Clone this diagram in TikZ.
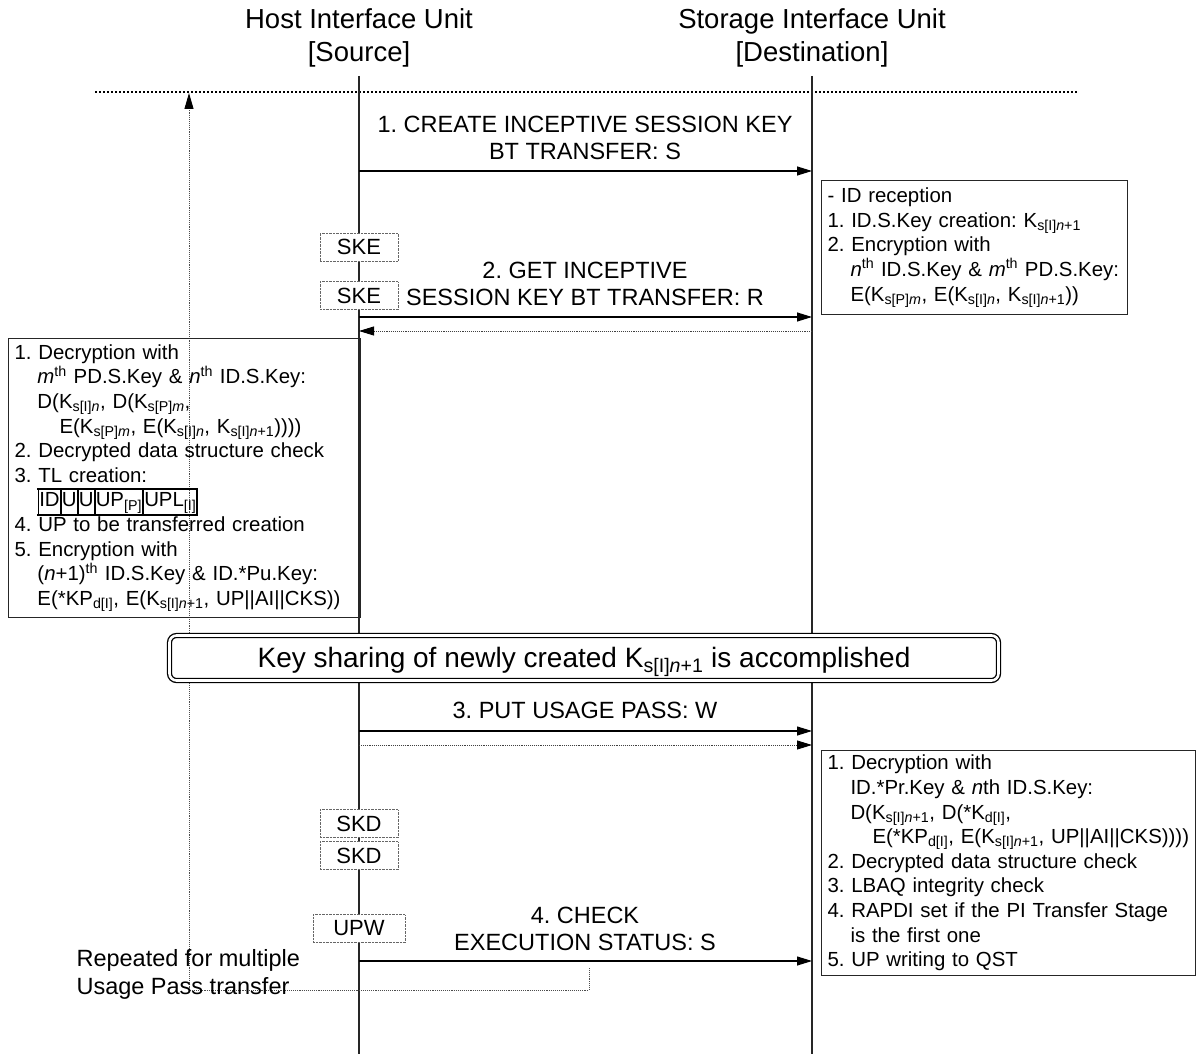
\documentclass[tikz,border=0pt]{standalone}
\usepackage{fontspec}
\setmainfont{Liberation Sans}
\usetikzlibrary{arrows.meta}
\frenchspacing
\newcommand\lo[1]{\textsubscript{#1}}
\newcommand\hi[1]{\textsuperscript{#1}}
\newcommand\ii{\textit}
\newcommand\tlb[1]{\fbox{\strut #1}\kern-1.4pt}
\tikzset{
  life/.style={draw=black!85, line width=1.2pt},
  msg/.style={draw=black, line width=1.1pt, -{Triangle[length=15pt,width=9pt]}},
  rmsg/.style={draw=black!75, line width=0.9pt, densely dotted, -{Triangle[length=15pt,width=9pt,fill=black,color=black]}},
  ttl/.style={font=\fontsize{27.5}{33}\selectfont, align=center},
  lbl/.style={font=\fontsize{23.5}{27}\selectfont, align=center},
  proc/.style={draw=black!60, densely dotted, fill=white, minimum width=78pt, minimum height=28pt, inner sep=0pt, font=\fontsize{22}{26}\selectfont},
  note/.style={draw=black!85, line width=1pt, anchor=north west, align=left, inner xsep=6pt, inner ysep=4pt, font=\fontsize{20.4}{24.6}\selectfont\frenchspacing},
}
\begin{document}
\begin{tikzpicture}[x=1pt,y=-1pt]
\useasboundingbox (0,0) rectangle (1203,1054);

% titles
\node[ttl] (host) at (359,38) {Host Interface Unit\\{[}Source{]}};
\node[ttl] (stor) at (812,38) {Storage Interface Unit\\{[}Destination{]}};

% lifeline coordinates
\coordinate (ht) at (359,76);
\coordinate (hb) at (359,1054);
\coordinate (st) at (812,76);
\coordinate (sb) at (812,1054);

% top dotted separator
\coordinate (sepL) at (95,92);
\coordinate (sepR) at (1078,92);
\draw[line width=2pt, dotted] (sepL) -- (sepR);

% lifelines
\draw[life] (ht) -- (hb);
\draw[life] (st) -- (sb);

% repeat loop
\coordinate (lp0) at (589,968);
\coordinate (lp1) at (589,990);
\coordinate (lp2) at (189,990);
\coordinate (lp3) at (189,93);
\draw[draw=black!70, line width=0.9pt, densely dotted, -{Triangle[length=16pt,width=9pt,fill=black,color=black]}] (lp0) -- (lp1) -- (lp2) -- (lp3);

% message 1
\coordinate (m1a) at (359,171);
\coordinate (m1b) at (812,171);
\draw[msg] (m1a) -- (m1b);
\node[lbl] (l1) at (585,138) {1. CREATE INCEPTIVE SESSION KEY\\BT TRANSFER: S};

% note 1
\node[note, text width=294pt, minimum height=134pt] (n1) at (821,180) {%
- ID reception\\
1. ID.S.Key creation: K\lo{s[I]\ii{n}+1}\\
2. Encryption with\\
\hspace*{23pt}\mbox{\ii{n}\hi{th} ID.S.Key \& \ii{m}\hi{th} PD.S.Key:}\\
\hspace*{23pt}E(K\lo{s[P]\ii{m}}, E(K\lo{s[I]\ii{n}}, K\lo{s[I]\ii{n}+1}))};

% SKE boxes
\node[proc] (ske1) at (359,247) {SKE};
\node[proc] (ske2) at (359,295.5) {SKE};

% message 2
\coordinate (m2a) at (359,317);
\coordinate (m2b) at (812,317);
\draw[msg] (m2a) -- (m2b);
\node[lbl] (l2) at (585,283.5) {2. GET INCEPTIVE\\SESSION KEY BT TRANSFER: R};
\coordinate (r2a) at (812,331);
\coordinate (r2b) at (359,331);
\draw[rmsg] (r2a) -- (r2b);

% note 2 (host)
\node[note, text width=340pt, minimum height=279pt] (n2) at (8,338) {%
1. Decryption with\\
\hspace*{23pt}\ii{m}\hi{th} PD.S.Key \& \ii{n}\hi{th} ID.S.Key:\\
\hspace*{23pt}D(K\lo{s[I]\ii{n}}, D(K\lo{s[P]\ii{m}},\\
\hspace*{45pt}E(K\lo{s[P]\ii{m}}, E(K\lo{s[I]\ii{n}}, K\lo{s[I]\ii{n}+1}))))\\
2. Decrypted data structure check\\
3. TL creation:\\
\hspace*{23pt}{\setlength\fboxrule{1.8pt}\setlength\fboxsep{0pt}\tlb{ID}\tlb{U}\tlb{U}\tlb{UP\lo{[P]}}\tlb{UPL\lo{[I]}}}\\
4. UP to be transferred creation\\
5. Encryption with\\
\hspace*{23pt}(\ii{n}+1)\hi{th} ID.S.Key \& ID.*Pu.Key:\\
\hspace*{23pt}E(*KP\lo{d[I]}, E(K\lo{s[I]\ii{n}+1}, UP||AI||CKS))};

% key sharing banner
\node[draw=black, line width=1.3pt, double=white, double distance=2.6pt, fill=white, rounded corners=7pt,
      minimum width=829pt, minimum height=45pt, inner sep=0pt, font=\fontsize{28}{32}\selectfont] (ks) at (584,658)
      {\raisebox{0pt}[22pt][4pt]{Key sharing of newly created K\lo{s[I]\ii{n}+1} is accomplished}};

% message 3
\node[lbl] (l3) at (585,710) {3. PUT USAGE PASS: W};
\coordinate (m3a) at (359,731);
\coordinate (m3b) at (812,731);
\draw[msg] (m3a) -- (m3b);
\coordinate (r3a) at (359,745);
\coordinate (r3b) at (812,745);
\draw[rmsg] (r3a) -- (r3b);

% note 3 (storage)
\node[note, text width=362pt, minimum height=225pt] (n3) at (821,750) {%
1. Decryption with\\
\hspace*{23pt}ID.*Pr.Key \& \ii{n}th ID.S.Key:\\
\hspace*{23pt}D(K\lo{s[I]\ii{n}+1}, D(*K\lo{d[I]},\\
\hspace*{45pt}\mbox{E(*KP\lo{d[I]}, E(K\lo{s[I]\ii{n}+1}, UP||AI||CKS))))}\\
2. Decrypted data structure check\\
3. LBAQ integrity check\\
4. RAPDI set if the PI Transfer Stage\\
\hspace*{23pt}is the first one\\
5. UP writing to QST};

% SKD / UPW boxes
\node[proc] (skd1) at (359,823.5) {SKD};
\node[proc] (skd2) at (359,855.5) {SKD};
\node[proc, minimum width=92pt] (upw) at (359,928.5) {UPW};

% message 4
\node[lbl] (l4) at (585,928.5) {4. CHECK\\EXECUTION STATUS: S};
\coordinate (m4a) at (359,961);
\coordinate (m4b) at (812,961);
\draw[msg] (m4a) -- (m4b);

% repeat label
\node[lbl, align=left, anchor=west, font=\fontsize{23.5}{28}\selectfont] (rep) at (73,974) {Repeated for multiple\\Usage Pass transfer};
\end{tikzpicture}
\end{document}
